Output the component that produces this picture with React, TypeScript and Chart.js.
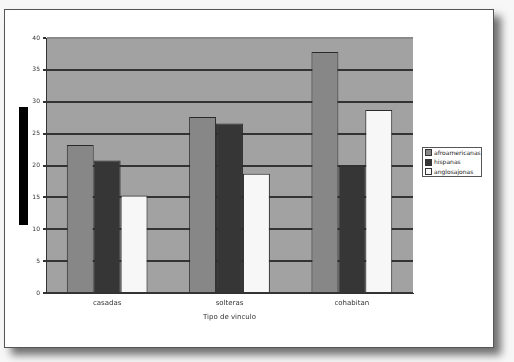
import React, { useEffect, useRef } from "react";
import { Chart, registerables } from "chart.js";

Chart.register(...registerables);

const categories = ["casadas", "solteras", "cohabitan"];
const seriesNames = ["afroamericanas", "hispanas", "anglosajonas"];
const afroamericanas = [23.2, 27.6, 37.8];
const hispanas = [20.8, 26.6, 20.0];
const anglosajonas = [15.3, 18.7, 28.7];
const seriesColors = ["#878787", "#363636", "#f7f7f7"];
const yTicks = [0, 5, 10, 15, 20, 25, 30, 35, 40];
const xTitle = "Tipo de vinculo";

const FONT = "'DejaVu Sans', sans-serif";

const plotBg = {
  id: "plotBg",
  beforeDraw(chart: any) {
    const { ctx, chartArea } = chart;
    if (!chartArea) return;
    ctx.save();
    ctx.fillStyle = "#a2a2a2";
    ctx.fillRect(chartArea.left, chartArea.top, chartArea.right - chartArea.left, chartArea.bottom - chartArea.top);
    ctx.restore();
  },
};

export default function App() {
  const ref = useRef<HTMLCanvasElement>(null);
  useEffect(() => {
    if (!ref.current) return;
    const values = [afroamericanas, hispanas, anglosajonas];
    const chart = new Chart(ref.current, {
      type: "bar",
      data: {
        labels: categories,
        datasets: seriesNames.map((n, i) => ({
          label: n,
          data: values[i],
          backgroundColor: seriesColors[i],
          borderColor: "#2a2a2a",
          borderWidth: 1,
          categoryPercentage: 0.66,
          barPercentage: 1,
        })),
      },
      options: {
        animation: false,
        responsive: false,
        maintainAspectRatio: false,
        layout: { padding: { left: 0, right: 80, top: 28, bottom: 26 } },
        plugins: { legend: { display: false }, tooltip: { enabled: false } },
        scales: {
          x: {
            grid: { display: false, drawTicks: false },
            border: { display: true, color: "#333", width: 1 },
            ticks: { font: { family: FONT, size: 7 }, color: "#333", padding: 6 },
            title: { display: true, text: xTitle, font: { family: FONT, size: 7 }, color: "#333", padding: { top: 4, bottom: 0 } },
            afterFit: (s: any) => { s.height = 28; },
          },
          y: {
            min: 0,
            max: 40,
            afterBuildTicks: (s: any) => { s.ticks = yTicks.map((v) => ({ value: v })); },
            grid: { color: (c: any) => (c.tick && c.tick.value === 40 ? "#8a8a8a" : "#333333"), lineWidth: 2, tickLength: 3, tickColor: "#333" },
            border: { display: true, color: "#333", width: 1 },
            ticks: { font: { family: FONT, size: 6 }, color: "#333", padding: 3 },
            afterFit: (s: any) => { s.width = 41; },
          },
        },
      },
      plugins: [plotBg],
    });
    return () => chart.destroy();
  }, []);

  return (
    <div style={{ position: "absolute", left: 0, top: 0, width: 514, height: 362, background: "#f7f7f7", overflow: "hidden", fontFamily: FONT }}>
      <div style={{ position: "absolute", left: 4, top: 9, width: 488, height: 337, background: "#ffffff", border: "1px solid #555", boxShadow: "7px 7px 8px rgba(0,0,0,0.55)" }}>
        <canvas ref={ref} width={488} height={337} style={{ display: "block" }} />
      </div>
      <div style={{ position: "absolute", left: 19, top: 107, width: 9, height: 118, background: "#000" }} />
      <div style={{ position: "absolute", left: 422, top: 147, width: 60, height: 30, border: "1px solid #555", background: "#fff", fontSize: 6, color: "#222", lineHeight: "10px", padding: "0 2px", boxSizing: "border-box", overflow: "hidden", whiteSpace: "nowrap" }}>
        {seriesNames.map((n, i) => (
          <div key={n} style={{ display: "flex", alignItems: "center", height: 9.5 }}>
            <span style={{ display: "inline-block", width: 5, height: 5, background: seriesColors[i], border: "1px solid #333", marginRight: 2, flex: "none" }} />
            <span>{n}</span>
          </div>
        ))}
      </div>
    </div>
  );
}
